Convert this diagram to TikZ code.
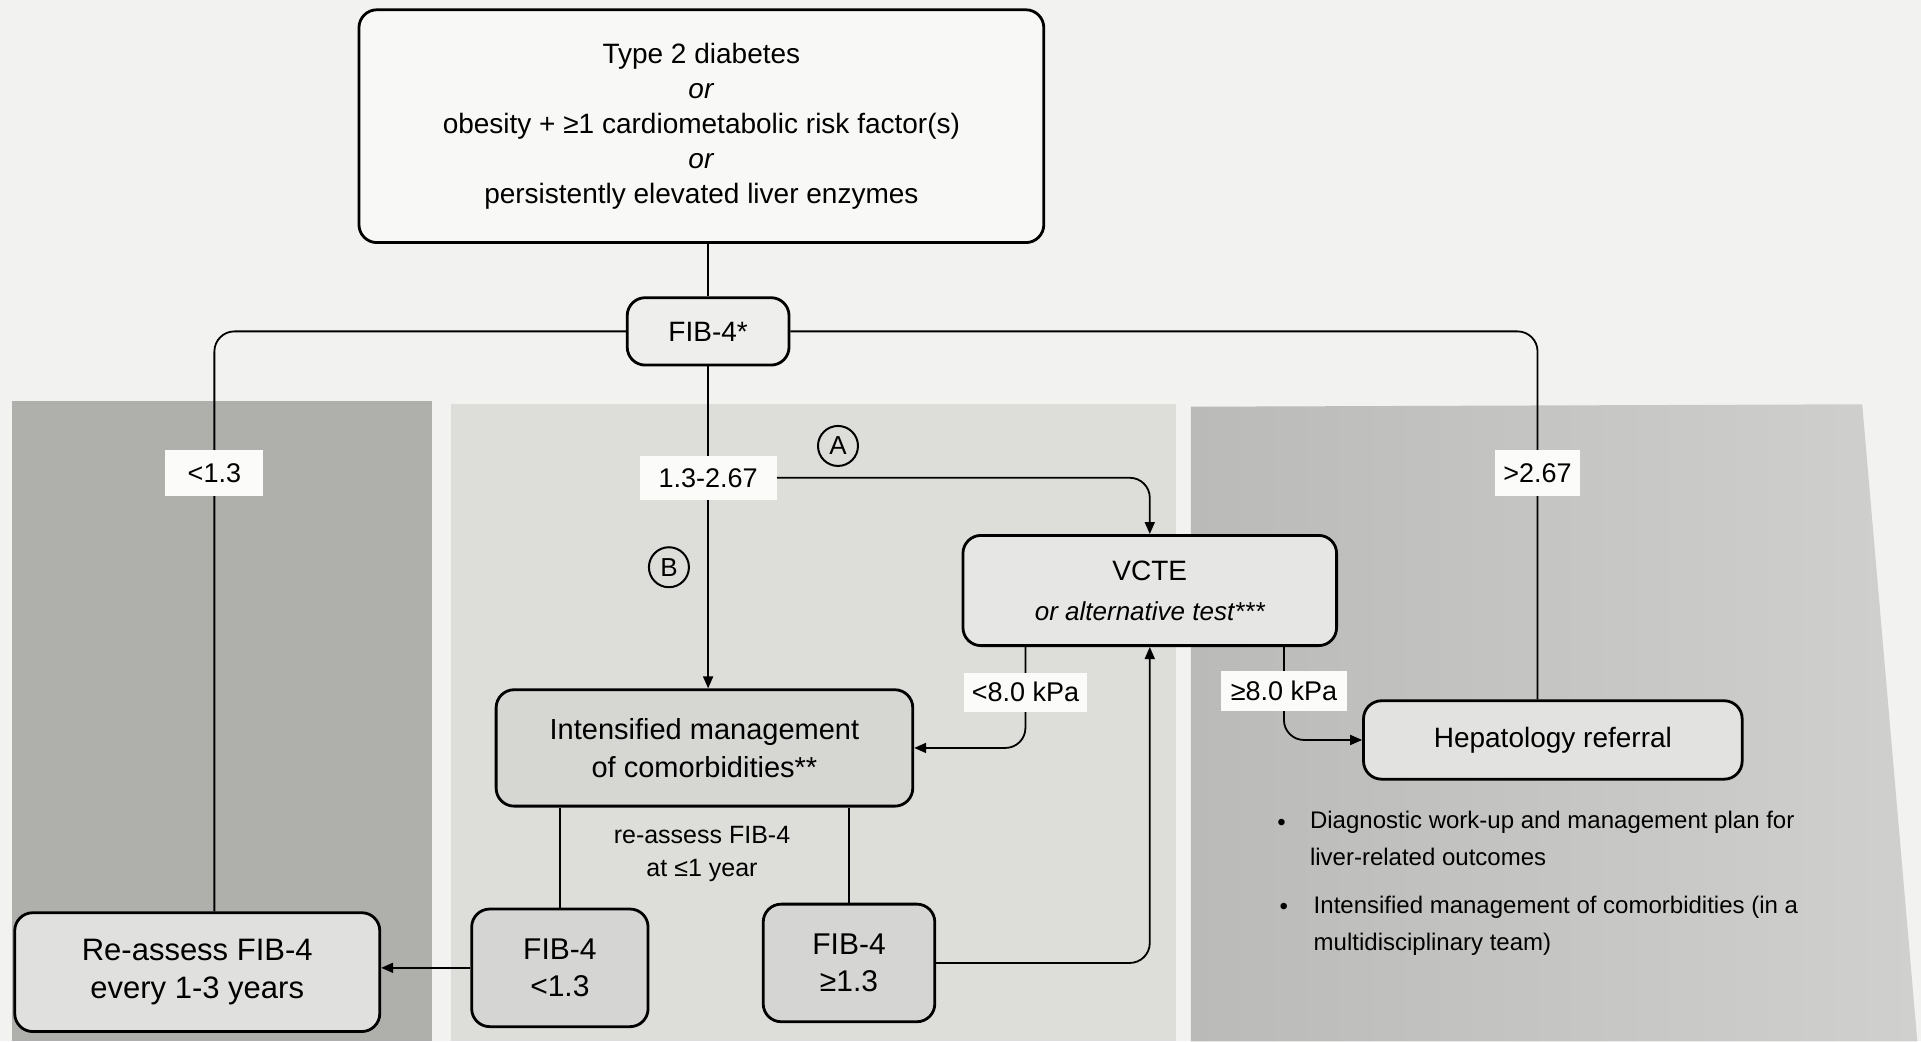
\documentclass[tikz,border=0pt]{standalone}
\usepackage{fontspec}
\setmainfont{Liberation Sans}
\usetikzlibrary{arrows.meta,calc}
\pgfdeclarelayer{bg}\pgfdeclarelayer{lines}\pgfsetlayers{bg,lines,main}
\definecolor{pagebg}{RGB}{242,242,240}
\definecolor{panelL}{RGB}{175,175,172}
\definecolor{panelM}{RGB}{221,221,217}
\definecolor{panelRa}{RGB}{186,186,184}
\definecolor{panelRb}{RGB}{208,208,206}
\definecolor{boxTop}{RGB}{248,248,246}
\definecolor{boxFib}{RGB}{238,238,236}
\definecolor{boxV}{RGB}{230,230,228}
\definecolor{boxI}{RGB}{214,214,211}
\definecolor{boxH}{RGB}{226,226,224}
\definecolor{boxR}{RGB}{224,224,222}
\definecolor{boxS}{RGB}{213,213,211}
\definecolor{labfill}{RGB}{251,251,250}
\newcommand\fsz[2]{\fontsize{#1pt}{#2pt}\selectfont}
\begin{document}
\begin{tikzpicture}[x=0.6125pt,y=-0.6125pt,
  box/.style={draw, line width=1.4pt, rounded corners=9pt, align=center, inner sep=0pt},
  lab/.style={fill=labfill, inner sep=0pt, align=center, font=\fsz{13.5}{16}},
  conn/.style={line width=0.9pt},
  arr/.style={conn, -{Triangle[length=6pt,width=5pt]}},
  circ/.style={draw, circle, line width=1pt, minimum size=20pt, inner sep=0pt, font=\fsz{13}{15}}]
\useasboundingbox (0,0) rectangle (1568,850);
\begin{pgfonlayer}{bg}
  \fill[pagebg] (0,0) rectangle (1568,850);
  \fill[panelL] (10,327) rectangle (353,850);
  \fill[panelM] (368,330) rectangle (960,850);
  \shade[left color=panelRa, right color=panelRb] (972,332) -- (1520,330) -- (1565,850) -- (972,850) -- cycle;
\end{pgfonlayer}

% boxes
\node[box, fill=boxTop, minimum width=342.4pt, minimum height=116.4pt, font=\fsz{14}{17.5}] (top) at (572.5,103)
  {Type 2 diabetes\\ \textit{or}\\ obesity + ≥1 cardiometabolic risk factor(s)\\ \textit{or}\\ persistently elevated liver enzymes};
\node[box, fill=boxFib, minimum width=80.9pt, minimum height=33.7pt, font=\fsz{14}{17}] (fib) at (578,270.5) {FIB-4*};
\node[box, fill=boxV, minimum width=186.8pt, minimum height=55.1pt, font=\fsz{14}{19}] (vcte) at (938.5,482)
  {VCTE\\[1pt] {\fsz{13}{19}\itshape or alternative test***}};
\node[box, fill=boxI, minimum width=208.3pt, minimum height=58.2pt, font=\fsz{14.5}{19}] (intens) at (575,610.5)
  {Intensified management\\ of comorbidities**};
\node[box, fill=boxH, minimum width=189.3pt, minimum height=39.2pt, font=\fsz{14}{17}] (hep) at (1267.5,604) {Hepatology referral};
\node[box, fill=boxS, minimum width=88.2pt, minimum height=58.8pt, font=\fsz{15}{18.5}] (fiblo) at (457,790) {FIB-4\\ <1.3};
\node[box, fill=boxS, minimum width=85.8pt, minimum height=58.8pt, font=\fsz{15}{18.5}] (fibhi) at (693,786) {FIB-4\\ ≥1.3};
\node[box, fill=boxR, minimum width=182.5pt, minimum height=59.4pt, font=\fsz{15.5}{19}] (reassess) at (161,793.5)
  {Re-assess FIB-4\\ every 1-3 years};

% labels
\node[lab, minimum width=49pt, minimum height=22.7pt] (lablo) at (175,386) {<1.3};
\node[lab, minimum width=68.6pt, minimum height=22pt] (labmid) at (578,390) {1.3-2.67};
\node[lab, minimum width=42.3pt, minimum height=22.7pt] (labhi) at (1255,386) {>2.67};
\node[lab, minimum width=61.9pt, minimum height=19.6pt] (labl8) at (837,565) {<8.0 kPa};
\node[lab, minimum width=63.1pt, minimum height=19.6pt] (labg8) at (1048,564) {≥8.0 kPa};
\node[circ] (cA) at (684,364) {A};
\node[circ] (cB) at (546,463) {B};
\node[align=center, inner sep=0pt, font=\fsz{12.5}{16.5}] (retxt) at (573,697) {re-assess FIB-4\\ at ≤1 year};

% bullets
\node[inner sep=0pt, font=\fsz{12}{18.4}] (b1) at (1046,673) {•};
\node[anchor=north west, align=left, inner sep=0pt, font=\fsz{12}{18.4}] (t1) at (1069,662)
  {Diagnostic work-up and management plan for\\ liver-related outcomes};
\node[inner sep=0pt, font=\fsz{12}{18.4}] (b2) at (1048,742) {•};
\node[anchor=north west, align=left, inner sep=0pt, font=\fsz{12}{18.4}] (t2) at (1072,731)
  {Intensified management of comorbidities (in a\\ multidisciplinary team)};

% connectors
\begin{pgfonlayer}{lines}
  \draw[conn] (fib.north |- top.south) -- (fib.north);
  \draw[conn, rounded corners=10pt] (fib.west) -| (lablo.center) -- (lablo.center |- reassess.north);
  \draw[conn, rounded corners=10pt] (fib.east) -| (labhi.center) -- (labhi.center |- hep.north);
  \draw[arr] (fib.south) -- (fib.south |- intens.north);
  \draw[arr, rounded corners=10pt] (labmid.east) -| (vcte.north);
  \draw[arr, rounded corners=10pt] (vcte.south -| labl8) -- (labl8.center) |- (intens.east);
  \draw[arr, rounded corners=10pt] (vcte.south -| labg8) -- (labg8.center) |- (hep.west);
  \draw[conn] (intens.south -| fiblo.north) -- (fiblo.north);
  \draw[conn] (intens.south -| fibhi.north) -- (fibhi.north);
  \draw[arr] (fiblo.west) -- (fiblo.west -| reassess.east);
  \draw[arr, rounded corners=10pt] (fibhi.east) -| (vcte.south);
\end{pgfonlayer}
\end{tikzpicture}
\end{document}
